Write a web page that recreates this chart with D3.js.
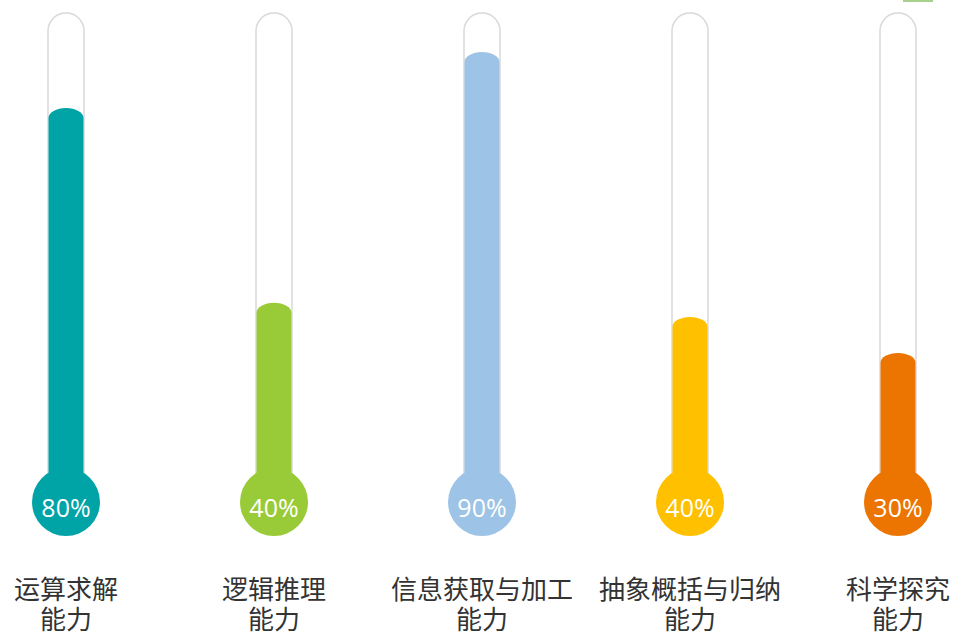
<!DOCTYPE html>
<html>
<head>
<meta charset="utf-8">
<script src="https://cdn.jsdelivr.net/npm/d3@7"></script>
<style>
  html, body { margin: 0; padding: 0; background: #ffffff; }
  svg { display: block; }
</style>
</head>
<body>
<svg id="chart" width="957" height="636"></svg>
<script>
// ---- data ----
const categories = ["运算求解能力", "逻辑推理能力", "信息获取与加工能力", "抽象概括与归纳能力", "科学探究能力"];
const fillLevels = [80.5, 40.5, 92, 37.6, 30.2];        // fill height, % of tube
const valueLabels = ["80%", "40%", "90%", "40%", "30%"];
const colors = ["#00A3A6", "#99CB38", "#9DC3E6", "#FFC000", "#EC7400"];

// ---- layout ----
const W = 957, H = 636;
const svg = d3.select("#chart");

const x = d3.scalePoint().domain(categories).range([66, 898]);
const y = d3.scaleLinear().domain([0, 100]).range([500, 13]);

const tubeHalf = 18, fillHalf = 17.5, capRy = 10, bulbR = 34, bulbCY = 502;

// top-right cut-off legend swatch
svg.append("rect").attr("x", 903).attr("y", -8).attr("width", 30).attr("height", 10)
  .attr("fill", "#A9D18E");

const g = svg.selectAll("g.thermo").data(categories).enter().append("g").attr("class", "thermo");

// outline tube
g.append("rect")
  .attr("x", d => x(d) - tubeHalf)
  .attr("y", y(100))
  .attr("width", tubeHalf * 2)
  .attr("height", bulbCY - y(100))
  .attr("rx", tubeHalf).attr("ry", tubeHalf)
  .attr("fill", "#ffffff")
  .attr("stroke", "#D9D9D9")
  .attr("stroke-width", 1.5);

// fill column
g.append("path")
  .attr("fill", (d, i) => colors[i])
  .attr("d", (d, i) => {
    const cx = x(d), top = y(fillLevels[i]);
    return `M${cx - fillHalf},${bulbCY} L${cx - fillHalf},${top + capRy} ` +
           `A${fillHalf},${capRy} 0 0 1 ${cx + fillHalf},${top + capRy} ` +
           `L${cx + fillHalf},${bulbCY} Z`;
  });

// bulb
g.append("circle")
  .attr("cx", d => x(d))
  .attr("cy", bulbCY)
  .attr("r", bulbR)
  .attr("fill", (d, i) => colors[i]);

// value labels
g.append("text")
  .attr("x", d => x(d))
  .attr("y", bulbCY + 15)
  .attr("text-anchor", "middle")
  .attr("fill", "#ffffff")
  .attr("font-family", "'Open Sans', 'Noto Sans', sans-serif")
  .attr("font-size", 25)
  .text((d, i) => valueLabels[i]);

// category labels (two lines)
const lab = g.append("text")
  .attr("text-anchor", "middle")
  .attr("fill", "#333333")
  .attr("font-family", "'Noto Sans CJK SC', sans-serif")
  .attr("font-size", 26);
lab.append("tspan")
  .attr("x", d => x(d)).attr("y", 599)
  .text(d => d.slice(0, d.length - 2));
lab.append("tspan")
  .attr("x", d => x(d)).attr("y", 629)
  .text(d => d.slice(d.length - 2));
</script>
</body>
</html>
